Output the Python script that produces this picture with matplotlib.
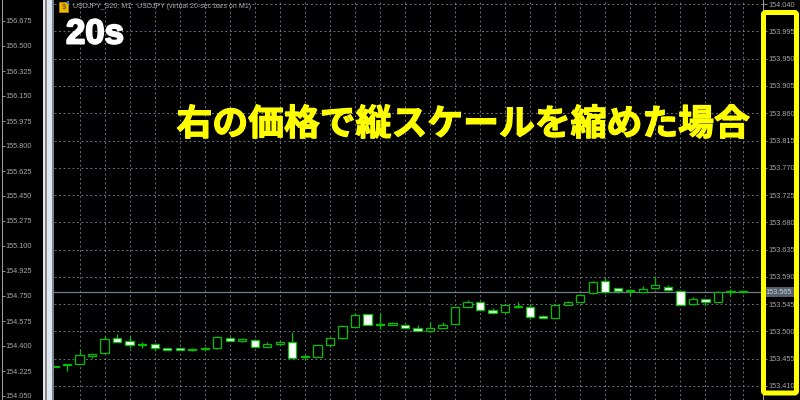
import numpy as np
import matplotlib
matplotlib.use("Agg")
import matplotlib.pyplot as plt
import matplotlib.patheffects as pe
from matplotlib.patches import Rectangle, FancyBboxPatch

opens = [153.443, 153.444, 153.447, 153.459, 153.464, 153.490, 153.484, 153.479, 153.480, 153.472,
         153.472, 153.471, 153.471, 153.472, 153.489, 153.484, 153.486, 153.475, 153.479, 153.482,
         153.459, 153.458, 153.477, 153.489, 153.508, 153.528, 153.512, 153.510, 153.511, 153.505,
         153.501, 153.506, 153.513, 153.540, 153.549, 153.535, 153.532, 153.540, 153.540, 153.525,
         153.523, 153.544, 153.549, 153.563, 153.584, 153.571, 153.568, 153.565, 153.571, 153.573,
         153.567, 153.545, 153.553, 153.549, 153.566, 153.566]
highs = [153.443, 153.447, 153.469, 153.463, 153.493, 153.495, 153.493, 153.483, 153.481, 153.472,
         153.472, 153.473, 153.475, 153.493, 153.491, 153.489, 153.487, 153.483, 153.484, 153.499,
         153.461, 153.477, 153.491, 153.510, 153.531, 153.529, 153.530, 153.516, 153.513, 153.510,
         153.516, 153.515, 153.540, 153.552, 153.550, 153.538, 153.544, 153.549, 153.546, 153.527,
         153.544, 153.550, 153.561, 153.584, 153.589, 153.572, 153.570, 153.575, 153.592, 153.576,
         153.568, 153.557, 153.554, 153.567, 153.570, 153.566]
lows = [153.442, 153.434, 153.446, 153.457, 153.463, 153.483, 153.472, 153.472, 153.467, 153.469,
        153.469, 153.467, 153.467, 153.471, 153.484, 153.483, 153.474, 153.474, 153.477, 153.456,
        153.453, 153.458, 153.474, 153.488, 153.507, 153.510, 153.504, 153.510, 153.505, 153.500,
        153.499, 153.506, 153.512, 153.539, 153.534, 153.530, 153.531, 153.539, 153.520, 153.522,
        153.522, 153.543, 153.548, 153.562, 153.564, 153.564, 153.559, 153.565, 153.570, 153.567,
        153.543, 153.544, 153.542, 153.548, 153.559, 153.564]
closes = [153.442, 153.447, 153.461, 153.462, 153.487, 153.483, 153.478, 153.478, 153.473, 153.470,
          153.470, 153.470, 153.473, 153.491, 153.485, 153.487, 153.475, 153.479, 153.482, 153.457,
          153.458, 153.477, 153.490, 153.509, 153.527, 153.510, 153.510, 153.514, 153.506, 153.500,
          153.505, 153.510, 153.540, 153.549, 153.535, 153.531, 153.543, 153.542, 153.524, 153.523,
          153.544, 153.549, 153.560, 153.582, 153.565, 153.567, 153.566, 153.570, 153.576, 153.568,
          153.544, 153.553, 153.549, 153.565, 153.565, 153.565]

right_ticks = [154.040, 153.995, 153.950, 153.905, 153.860, 153.815, 153.770, 153.725,
               153.680, 153.635, 153.590, 153.545, 153.500, 153.455, 153.410]
left_ticks = [156.675, 156.500, 156.325, 156.150, 155.975, 155.800, 155.625, 155.450,
              155.275, 155.100, 154.925, 154.750, 154.575, 154.400, 154.225, 154.050]
last_price = 153.565
title = "USDJPY_S20, M1:  USDJPY (virtual 20-sec bars on M1)"
label_tf = "20s"
label_jp = "右の価格で縦スケールを縮めた場合"

W, H = 800, 400
GRAY = "#a6a6a6"
GRID = "#7d8794"
GREEN = "#00c000"
plt.rcParams["font.family"] = ["Liberation Sans", "DejaVu Sans"]


def box(x0, x1):
    return [x0 / W, 0, (x1 - x0) / W, 1]


fig = plt.figure(figsize=(8, 4), dpi=100, facecolor="black")

# left price panel
axl = fig.add_axes(box(2, 43), facecolor="black")
axl.set_ylim(154.022, 156.822)
axl.set_xticks([])
axl.set_yticks(left_ticks)
axl.set_yticklabels([f"{v:.3f}" for v in left_ticks], ha="left")
axl.tick_params(axis="y", direction="in", length=2.5, width=0.6, color=GRAY,
                labelcolor=GRAY, labelsize=5.3, pad=-2.8)
for s in ["top", "right", "bottom"]:
    axl.spines[s].set_visible(False)
axl.spines["left"].set_color(GRAY)
axl.spines["left"].set_linewidth(0.7)

# main chart
ax = fig.add_axes(box(54, 763), facecolor="black")
ax.set_xlim(-0.04, 56.6)
ax.set_ylim(153.3869, 154.0469)
x = np.arange(len(opens))
o = np.array(opens)
c = np.array(closes)
ax.set_xticks(list(x[2::2]) + [55])
ax.set_xticklabels([])
ax.tick_params(axis="x", length=0)
ax.yaxis.tick_right()
ax.set_yticks(right_ticks)
ax.set_yticklabels([f"{v:.3f}" for v in right_ticks])
ax.tick_params(axis="y", length=3, width=0.6, color=GRAY, labelcolor=GRAY, labelsize=5.3, pad=0.6)
ax.grid(True, color=GRID, lw=0.6, linestyle=(0, (2.2, 3.2)), zorder=1)
ax.set_axisbelow(True)
for s in ["top", "left", "bottom"]:
    ax.spines[s].set_visible(False)
ax.spines["right"].set_color(GRAY)
ax.spines["right"].set_linewidth(0.7)

ax.axhline(last_price, color="#6f7c8b", lw=0.9, zorder=1.5)
ax.vlines(x, lows, highs, color=GREEN, lw=0.9, zorder=2)
face = ["black" if cl > op else "white" for op, cl in zip(o, c)]
ax.bar(x, np.abs(c - o), bottom=np.minimum(o, c), width=0.66, color=face,
       edgecolor=GREEN, linewidth=0.9, zorder=3)
ax.text(1.004, last_price, f"{last_price:.3f}", transform=ax.get_yaxis_transform(), va="center", ha="left",
        fontsize=5.3, color="#c8d0d8", zorder=5, clip_on=False,
        bbox=dict(boxstyle="square,pad=0.25", fc="#55606c", ec="none"))

# things on top, in pixel coordinates
top = fig.add_axes([0, 0, 1, 1], facecolor="none")
top.set_xlim(0, W)
top.set_ylim(H, 0)
top.axis("off")
for x0, x1, col in [(43, 45, "#e6e6e6"), (45, 47, "#8a8a8a"), (47, 52, "#dde6ee"), (52, 54, "#7a8490")]:
    top.add_patch(Rectangle((x0, 0), x1 - x0, H, fc=col, ec="none"))
top.add_patch(FancyBboxPatch((763.5, 12.5), 33, 380.5, boxstyle="round,pad=0,rounding_size=2",
                             fc="none", ec="#ffff00", lw=3.6))
top.add_patch(Rectangle((59, 2), 9, 10, fc="#f2b800", ec="#b58a00", lw=0.5))
top.text(63.5, 7.3, "$", color="#7a5a00", fontsize=5.5, ha="center", va="center", fontweight="bold")
top.add_patch(Rectangle((66.5, 1), 2.5, 2.5, fc="#2a7de1", ec="none"))
top.text(73, 7, title, color=GRAY, fontsize=5.05, va="center", ha="left")
top.text(66, 34, label_tf, color="white", fontsize=25, fontweight="bold", va="center", ha="left",
         path_effects=[pe.withStroke(linewidth=1.4, foreground="white")])
top.text(463.5, 124.5, label_jp, color="#ffff00", fontsize=25.8, fontweight="bold", va="center", ha="center",
         family=["Noto Sans CJK JP", "DejaVu Sans"],
         path_effects=[pe.withStroke(linewidth=0.9, foreground="#ffff00")])

fig.savefig("out.png", dpi=100, facecolor="black")
